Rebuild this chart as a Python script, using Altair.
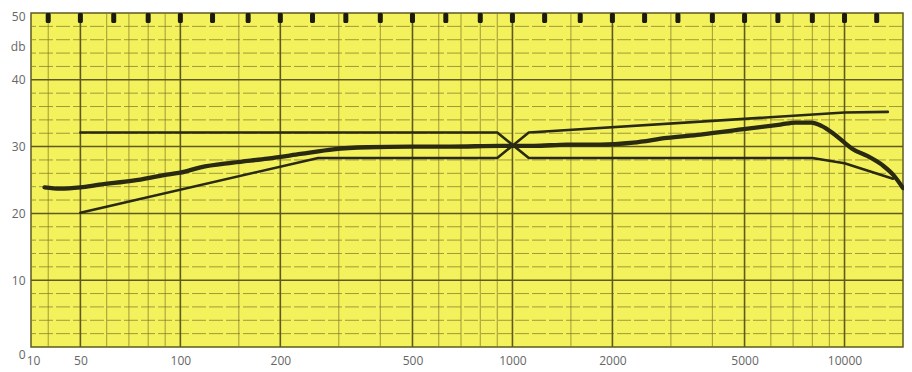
import altair as alt
import pandas as pd

# ---- data ----
marker_freqs = [40, 50, 63, 80, 100, 125, 160, 200, 250, 315, 400, 500, 630, 800,
                1000, 1250, 1600, 2000, 2500, 3150, 4000, 5000, 6300, 8000, 10000, 12500]

thick_freq = [39, 43.5, 50, 57, 72, 91, 100, 115, 144, 183, 230, 289, 366, 493, 651,
              920, 1160, 1460, 1840, 2310, 2920, 3680, 4970, 6410, 7130, 7940, 8520,
              9230, 10000, 10600, 11700, 13100, 14000, 15000]
thick_db = [23.9, 23.7, 23.9, 24.3, 24.9, 25.8, 26.1, 26.9, 27.6, 28.2, 28.9, 29.6,
            29.9, 30.0, 30.0, 30.1, 30.1, 30.3, 30.3, 30.6, 31.3, 31.8, 32.6, 33.3,
            33.6, 33.6, 33.1, 32.0, 30.6, 29.6, 28.6, 27.1, 25.8, 23.8]

a_freq = [50, 260, 900, 1120, 10000, 13500]
a_db = [20.1, 28.3, 28.3, 32.1, 35.1, 35.2]
b_freq = [50, 900, 1120, 8000, 10000, 14000]
b_db = [32.1, 32.1, 28.3, 28.3, 27.5, 25.2]

major_freqs = [50, 100, 200, 500, 1000, 2000, 5000, 10000]
minor_freqs = [40, 60, 70, 80, 90, 150, 300, 400, 600, 700, 800, 900, 1500,
               3000, 4000, 6000, 7000, 8000, 9000]
major_db = [10, 20, 30, 40]
minor_db = [2, 4, 6, 8, 12, 14, 16, 18, 22, 24, 26, 28, 32, 34, 36, 38, 42, 44, 46, 48]

x_label_values = [36, 50, 100, 200, 500, 1000, 2000, 5000, 10000]
y_label_values = [0, 10, 20, 30, 40, 45, 50]

# ---- styling ----
GRID_MAJOR = "#5e5a1c"
GRID_MINOR = "#7d7828"
CURVE = "#2a2912"
LABEL = "#666666"
FONT = "Open Sans"

xs = alt.Scale(type="log", domain=[35.5, 15000], nice=False)
ys = alt.Scale(domain=[0, 50], nice=False)

x_axis = alt.Axis(values=x_label_values,
                  labelExpr="datum.value < 40 ? '10' : format(datum.value, 'd')",
                  ticks=False, domain=False, grid=False, labelFlush=False,
                  labelOverlap=False, labelPadding=8, labelFontSize=12,
                  labelColor=LABEL, labelFont=FONT)
y_axis = alt.Axis(values=y_label_values,
                  labelExpr="datum.value == 45 ? 'db' : format(datum.value, 'd')",
                  labelOffset=alt.ConditionalAxisNumber(
                      condition=[{"test": "datum.value == 0", "value": 7},
                                 {"test": "datum.value == 50", "value": 3}],
                      value=0),
                  ticks=False, domain=False, grid=False, labelFlush=False,
                  labelOverlap=False, labelPadding=6, labelFontSize=12,
                  labelColor=LABEL, labelFont=FONT)


def X(field):
    return alt.X(f"{field}:Q", scale=xs, axis=x_axis, title=None)


def Y(field):
    return alt.Y(f"{field}:Q", scale=ys, axis=y_axis, title=None)


minor_h = alt.Chart(pd.DataFrame({"v": minor_db})).mark_rule(
    color=GRID_MINOR, strokeWidth=0.9, strokeDash=[14, 3], opacity=0.8
).encode(y=Y("v"))
major_h = alt.Chart(pd.DataFrame({"v": major_db})).mark_rule(
    color=GRID_MAJOR, strokeWidth=1.5
).encode(y=Y("v"))
minor_v = alt.Chart(pd.DataFrame({"f": minor_freqs})).mark_rule(
    color=GRID_MINOR, strokeWidth=0.9, opacity=0.8
).encode(x=X("f"))
major_v = alt.Chart(pd.DataFrame({"f": major_freqs})).mark_rule(
    color=GRID_MAJOR, strokeWidth=1.6
).encode(x=X("f"))

markers = alt.Chart(pd.DataFrame({"f": marker_freqs, "v": [49.25] * len(marker_freqs)})).mark_tick(
    orient="vertical", size=10, thickness=5, color="#1c1b10", cornerRadius=1.5, opacity=1
).encode(x=X("f"), y=Y("v"))

thin_df = pd.DataFrame({
    "f": a_freq + b_freq,
    "v": a_db + b_db,
    "s": ["A"] * len(a_freq) + ["B"] * len(b_freq),
})
thin = alt.Chart(thin_df).mark_line(
    color=CURVE, strokeWidth=2.6, strokeCap="round", strokeJoin="round"
).encode(x=X("f"), y=Y("v"), detail="s:N")

thick = alt.Chart(pd.DataFrame({"f": thick_freq, "v": thick_db})).mark_line(
    color=CURVE, strokeWidth=4.3, interpolate="monotone", strokeCap="round"
).encode(x=X("f"), y=Y("v"))

chart = alt.layer(minor_h, minor_v, major_h, major_v, markers, thin, thick).properties(
    width=872, height=334,
    autosize=alt.AutoSizeParams(type="none"),
    padding={"left": 23, "top": 5, "right": 1, "bottom": 24},
    background="white",
).configure_view(fill="#f4f25c", stroke=GRID_MAJOR, strokeWidth=1.5)

chart.save("out.html", embed_options={"renderer": "svg", "actions": False})
